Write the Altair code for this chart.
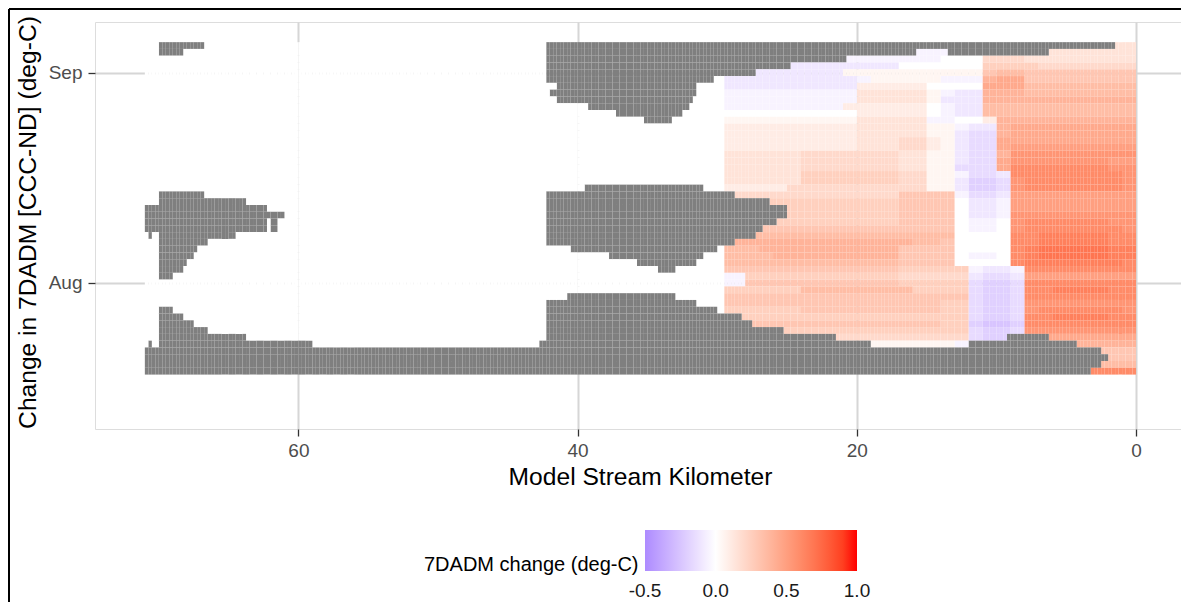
import altair as alt
import pandas as pd

alt.data_transformers.disable_max_rows()

# rows: days relative to Aug 1 (35 = Sep 5 ... -13 = Jul 19)
DAYS = list(range(35, -14, -1))

# value codes used in the colour grid (deg-C)
CODES = {"A": -0.35, "B": -0.30, "C": -0.25, "D": -0.20, "E": -0.15, "F": -0.10,
         "G": -0.05, "0": 0.0, "1": 0.05, "2": 0.10, "3": 0.15, "4": 0.20,
         "5": 0.25, "6": 0.30, "7": 0.35, "8": 0.40, "9": 0.45, "a": 0.50,
         "b": 0.55, "c": 0.60, "d": 0.65, "e": 0.70, "f": 0.75}

# colour grid: one string per day (top row first), 1-km bins from km 29.5 (left) to km 0 (right)
COLOR_GRID = [
    "00000000000000000000000000" + "3333",
    "00000000000000" + "GGG" + "000000" + "3333333",
    "000000000" + "GGGGGGG" + "000" + "444" + "33333333",
    "00000" + "FFFFFFFF" + "000000" + "5555" + "4444444",
    "00" + "FFFFFFF" + "1111111111" + "6" + "77" + "66666666",
    "FFFFFFFFFF" + "G" + "11111" + "GGG" + "8" + "99" + "66666666",
    "FFFFFFFFFF" + "22222" + "0000" + "999" + "77777777",
    "GG" + "GGGGGGGG" + "33333" + "1" + "GFF" + "888" + "77777777",
    "GGGGGGGGGG" + "33333" + "1" + "FFF" + "888" + "88888888",
    "GGGGGGGGG" + "222222" + "0" + "GFF" + "777" + "77777777",
    "0000000000" + "22222" + "0" + "GFF" + "777" + "77777777",
    "1111111111" + "33333" + "GG" + "00" + "2" + "88" + "88888888",
    "222222222233333" + "11" + "GFF" + "8" + "999999999",
    "222222222233333" + "11" + "FEE" + "8" + "999999999",
    "222222222233344" + "21" + "FEE" + "9" + "999999999",
    "222222222233344" + "21" + "FEE" + "9" + "aaaaaaaaa",
    "333333" + "4444444" + "3311" + "FEE" + "8" + "bbbbbbbbb",
    "333333" + "4444444" + "3311" + "FEE" + "9" + "bbbbbbb" + "aa",
    "333333" + "4444444" + "3311" + "EEE" + "9" + "ccccccc" + "bb",
    "333333" + "5555555" + "4411" + "GEEF" + "cccccccc" + "b",
    "333333" + "5555555" + "4411" + "FDDE" + "bcccccccb",
    "22222" + "44444444" + "4411" + "FDDE" + "bcccccccb",
    "44" + "44444444444" + "6666" + "GEEF" + "aaaaaaaaa",
    "5555555555555" + "6666" + "0FFG" + "aaaaaaaaa",
    "5555555555555" + "6666" + "0FFG" + "aaaaaaaaa",
    "5555555555555" + "6666" + "0FFG" + "bbbbbbbbb",
    "5555555555555" + "6666" + "0GG0" + "bccccccbb",
    "66666666666666666" + "0GG0" + "bcccccccb",
    "77777777777777777" + "0000" + "ccdddddcc",
    "7888888888888877" + "6" + "0000" + "ccdddddcc",
    "777" + "8888888888" + "6666" + "0000" + "cdeeeeedd",
    "7777" + "888888888" + "6666" + "0GG0" + "cdeeeeedd",
    "7777777777777" + "6666" + "0000" + "cdddddddc",
    "6666666666666" + "55555" + "GFFG" + "cccccccc",
    "GG" + "55555555555" + "44444" + "FEEF" + "aaaaaaaa",
    "GG" + "66666666666" + "55555" + "EDDE" + "cccccccc",
    "555555" + "77777777" + "5555" + "EDDE" + "ccddddcc",
    "666666666666666666" + "EDDE" + "cccccccc",
    "666666666666666655" + "EDDE" + "bbbbbbbb",
    "555555666666666655" + "EDDE" + "bccccccb",
    "555555555555555555" + "EDDE" + "ccddddcc",
    "666666666666666655" + "DCCD" + "cccccccc",
    "555555555555555555" + "EDDE" + "bbbbbbbb",
    "444444444444444444" + "EDDE" + "99999999",
    "11111111111111111" + "G" + "0000000" + "88888",
    "000000000000000000000000000" + "666",
    "000000000000000000000000000" + "666",
    "000000000000000000000000000" + "777",
    "00000000000000000000000000" + "cccc",
]

# missing-value (grey) runs per day: (upstream km, downstream km)
GREY_RUNS = {
    35: [(69.9, 66.8), (42.2, 1.6)],
    34: [(69.9, 68.2), (42.2, 15.8), (13.4, 6.3)],
    33: [(42.2, 20.7)],
    32: [(42.2, 24.8)],
    31: [(42.2, 27.3)],
    30: [(42.2, 30.2)],
    29: [(41.4, 31.6)],
    28: [(42.1, 41.6), (41.4, 31.6)],
    27: [(41.4, 31.7)],
    26: [(39.3, 32.0)],
    25: [(37.2, 32.4)],
    24: [(35.2, 33.3)],
    14: [(39.4, 31.0)],
    13: [(69.9, 66.8), (42.2, 28.7)],
    12: [(69.9, 63.8), (42.2, 26.2)],
    11: [(71.0, 62.3), (42.2, 25.0)],
    10: [(71.0, 61.0), (42.2, 24.9)],
    9: [(71.0, 62.3), (61.9, 61.6), (42.2, 25.7)],
    8: [(71.0, 62.3), (61.9, 61.6), (42.2, 26.7)],
    7: [(70.8, 70.4), (69.9, 64.5), (42.2, 27.3)],
    6: [(69.9, 66.5), (42.2, 28.7)],
    5: [(69.9, 67.3), (40.5, 29.9)],
    4: [(69.9, 67.6), (37.7, 30.9)],
    3: [(69.9, 68.0), (35.8, 31.5)],
    2: [(69.9, 68.3), (34.3, 33.0)],
    1: [(69.9, 68.9)],
    -2: [(40.8, 33.0)],
    -3: [(42.2, 31.5)],
    -4: [(69.9, 69.0), (42.2, 30.0)],
    -5: [(69.9, 68.2), (42.2, 28.2)],
    -6: [(69.9, 67.4), (42.2, 27.5)],
    -7: [(69.9, 66.6), (42.2, 25.3)],
    -8: [(69.9, 63.8), (42.2, 21.4), (9.2, 6.35)],
    -9: [(70.8, 70.5), (69.9, 59.0), (42.7, 18.9), (11.9, 4.2)],
    -10: [(71.0, 2.6)],
    -11: [(71.0, 2.0)],
    -12: [(71.0, 2.6)],
    -13: [(71.0, 3.2)],
}

# colour-bar labels
LEGEND_VALUES = [-0.5, 0.0, 0.5, 1.0]
LEGEND_LABELS = ["-0.5", "0.0", "0.5", "1.0"]

CELL_KM = 0.25
N_CELLS = 284          # 0 .. 71 km
COLOR_EDGE_KM = 29.5   # upstream limit of modelled change

records = []
for i, k in enumerate(DAYS):
    row = (COLOR_GRID[i] + "0" * 30)[:30]
    runs = GREY_RUNS.get(k, [])
    for c in range(N_CELLS):
        lo = c * CELL_KM
        mid = lo + CELL_KM / 2
        g = any(b <= mid <= a for a, b in runs)
        if g:
            v = 0.0
        elif mid < COLOR_EDGE_KM:
            v = CODES.get(row[29 - int(mid)], 0.0)
        else:
            v = 0.0
        records.append({"x": lo, "y": k, "v": v, "g": int(g)})
df = pd.DataFrame(records)
leg = pd.DataFrame({"val": LEGEND_VALUES, "lab": LEGEND_LABELS})

FONT = "Liberation Sans"
PLOT_W, PLOT_H = 1086, 407
BAR_X0, BAR_LEN, BAR_Y0, BAR_THICK = 550, 212, 508, 41

heat = alt.Chart(df).transform_calculate(
    x2="datum.x + 0.25", ya="datum.y - 0.5", yb="datum.y + 0.5"
).mark_rect().encode(
    x=alt.X("x:Q",
            scale=alt.Scale(domain=[-3.22, 74.57], reverse=True, nice=False, zero=False),
            axis=alt.Axis(values=[0, 20, 40, 60], format="d", title="Model Stream Kilometer",
                          grid=True, gridColor="#d6d6d6", gridWidth=2, domain=False,
                          tickColor="#333333", tickSize=7, tickWidth=1.3,
                          labelFontSize=19, labelColor="#4d4d4d", labelPadding=5,
                          labelFlush=False, labelFont=FONT,
                          titleFontSize=24.6, titleFontWeight="normal", titleColor="black",
                          titleFont=FONT, titleX=545, titleY=55, titleAlign="center",
                          titleBaseline="alphabetic")),
    x2="x2:Q",
    y=alt.Y("ya:Q",
            scale=alt.Scale(domain=[-21.52, 38.47], nice=False, zero=False),
            axis=alt.Axis(values=[0, 31],
                          labelExpr="datum.value == 0 ? 'Aug' : 'Sep'",
                          title="Change in 7DADM [CCC-ND] (deg-C)",
                          grid=True, gridColor="#d6d6d6", gridWidth=2, domain=False,
                          tickColor="#333333", tickSize=7, tickWidth=1.3,
                          labelFontSize=19, labelColor="#4d4d4d", labelPadding=6,
                          labelFont=FONT,
                          titleFontSize=24.6, titleFontWeight="normal", titleColor="black",
                          titleFont=FONT, titleX=-60, titleY=200, titleAngle=270,
                          titleAlign="center", titleBaseline="alphabetic")),
    y2="yb:Q",
    color=alt.condition(
        "datum.g == 1",
        alt.value("#7f7f7f"),
        alt.Color("v:Q",
                  scale=alt.Scale(domain=[-0.5, 0, 1.0],
                                  range=["#ad8bff", "#ffffff", "#ff0000"],
                                  interpolate="lab"),
                  legend=alt.Legend(orient="none", legendX=329, legendY=BAR_Y0,
                                    direction="horizontal",
                                    title="7DADM change (deg-C)",
                                    titleOrient="left", titleAnchor="end",
                                    titleBaseline="alphabetic", titleLimit=400,
                                    titleFontSize=20, titleFontWeight="normal",
                                    titleColor="black", titleFont=FONT, titlePadding=6,
                                    gradientLength=BAR_LEN, gradientThickness=BAR_THICK,
                                    gradientStrokeWidth=0,
                                    values=LEGEND_VALUES, labelExpr="''",
                                    labelFontSize=19, padding=0)),
    ),
)

bar_scale = alt.Scale(domain=[-0.5, 1.0], range=[BAR_X0, BAR_X0 + BAR_LEN], nice=False, zero=False)

leg_text = alt.Chart(leg).mark_text(
    fontSize=19, font=FONT, color="#1a1a1a", align="center", baseline="alphabetic"
).encode(
    x=alt.X("val:Q", scale=bar_scale, axis=None),
    y=alt.value(BAR_Y0 + BAR_THICK + 26),
    text="lab:N",
)
leg_ticks_top = alt.Chart(leg[(leg.val > -0.5) & (leg.val < 1.0)]).mark_rule(
    color="white", strokeWidth=1.2
).encode(
    x=alt.X("val:Q", scale=bar_scale, axis=None),
    y=alt.value(BAR_Y0), y2=alt.value(BAR_Y0 + 8),
)
leg_ticks_bot = alt.Chart(leg[(leg.val > -0.5) & (leg.val < 1.0)]).mark_rule(
    color="white", strokeWidth=1.2
).encode(
    x=alt.X("val:Q", scale=bar_scale, axis=None),
    y=alt.value(BAR_Y0 + BAR_THICK - 8), y2=alt.value(BAR_Y0 + BAR_THICK),
)

one = pd.DataFrame({"a": [0]})
frame_left = alt.Chart(one).mark_rule(color="black", strokeWidth=2).encode(
    x=alt.value(-86), y=alt.value(-13), y2=alt.value(580))
frame_top = alt.Chart(one).mark_rule(color="black", strokeWidth=2).encode(
    x=alt.value(-86), x2=alt.value(PLOT_W), y=alt.value(-13))

chart = alt.layer(heat, leg_text, leg_ticks_top, leg_ticks_bot, frame_left, frame_top).resolve_scale(
    x="independent"
).properties(
    width=PLOT_W, height=PLOT_H,
    padding={"left": 87, "top": 14, "right": 0, "bottom": 173},
    autosize=alt.AutoSizeParams(type="none"),
).configure_view(
    stroke="#333333", strokeWidth=1.3, fill="white"
).configure(font=FONT, background="white")

chart.save("out.html", embed_options={"renderer": "svg", "actions": False})
